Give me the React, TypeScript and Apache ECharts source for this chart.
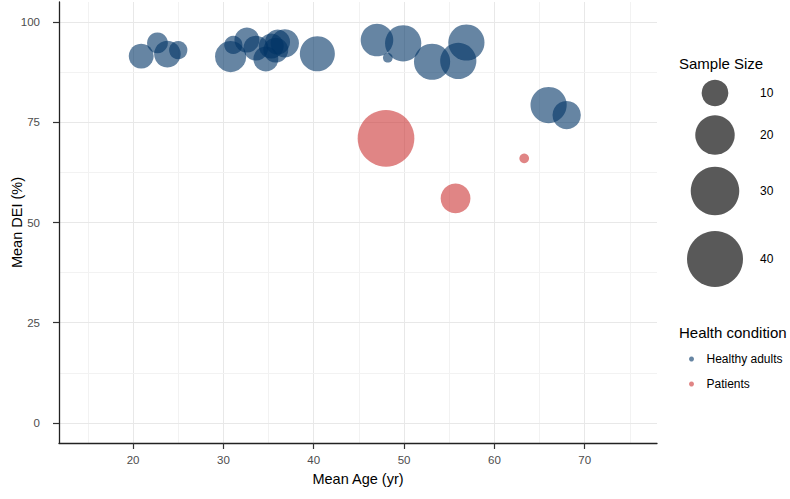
import React, { useEffect, useRef } from "react";
import * as echarts from "echarts";

// ---- data ----
const healthyAge = [20.9, 22.7, 23.8, 25.0, 30.8, 31.1, 32.6, 33.6, 34.7, 35.3, 35.8, 36.0, 36.8, 40.4, 47.0, 48.2, 49.9, 53.1, 56.0, 56.9, 66.0, 68.0];
const healthyDEI = [91.5, 94.8, 92.0, 93.0, 91.4, 94.3, 95.5, 93.5, 90.8, 94.0, 93.0, 95.0, 94.7, 92.1, 95.5, 91.1, 94.7, 90.1, 90.3, 94.9, 79.3, 76.8];
const healthyN = [9, 7, 10, 6, 13, 6, 9, 9, 9, 9, 9, 9, 11, 16, 14, 4, 17, 17, 17, 17, 17, 11];

const patientAge = [48.0, 63.3, 55.7];
const patientDEI = [71.0, 66.0, 56.0];
const patientN = [41, 4, 12];

const xTicks = [20, 30, 40, 50, 60, 70];
const yTicks = [0, 25, 50, 75, 100];
const xGrid = [15, 20, 25, 30, 35, 40, 45, 50, 55, 60, 65, 70, 75];
const yGrid = [0, 12.5, 25, 37.5, 50, 62.5, 75, 87.5, 100];
const sizeBreaks = [10, 20, 30, 40];
const groupNames = ["Healthy adults", "Patients"];

const FONT = "'Liberation Sans', Arial, sans-serif";

function sizeOf(n: number): number {
  return 6 + 8.31 * Math.sqrt(Math.max(0, n - 3.8));
}

function zip(a: number[], b: number[], c: number[]) {
  return a.map((v, i) => [v, b[i], c[i]]);
}

export default function App() {
  const ref = useRef<HTMLDivElement>(null);

  useEffect(() => {
    if (!ref.current) return;
    const chart = echarts.init(ref.current, undefined, { renderer: "svg" });

    const legendCy = [93, 135, 191, 259];
    const graphics: any[] = [
      {
        type: "text",
        x: 679,
        y: 63,
        style: { text: "Sample Size", fontSize: 15, fontFamily: FONT, fill: "#000", align: "left", verticalAlign: "middle" },
      },
      {
        type: "text",
        x: 679,
        y: 332,
        style: { text: "Health condition", fontSize: 15, fontFamily: FONT, fill: "#000", align: "left", verticalAlign: "middle" },
      },
    ];
    sizeBreaks.forEach((n, i) => {
      graphics.push({
        type: "circle",
        shape: { cx: 715, cy: legendCy[i], r: sizeOf(n) / 2 },
        style: { fill: "#000", opacity: 0.65 },
      });
      graphics.push({
        type: "text",
        x: 760,
        y: legendCy[i],
        style: { text: String(n), fontSize: 12, fontFamily: FONT, fill: "#000", align: "left", verticalAlign: "middle" },
      });
    });

    const gridLine = (color: string) => ({ color, width: 1, type: "solid" as const });

    chart.setOption({
      animation: false,
      backgroundColor: "#fff",
      grid: { left: 59, right: 133, top: 2, bottom: 56, containLabel: false, outerBoundsMode: "none" },
      xAxis: {
        type: "value",
        min: 11.8,
        max: 78,
        name: "Mean Age (yr)",
        nameLocation: "middle",
        nameGap: 28,
        nameMoveOverlap: false,
        nameTextStyle: { fontSize: 14.5, fontFamily: FONT, color: "#000" },
        axisLine: { show: true, onZero: false, lineStyle: { color: "#222", width: 1.3 } },
        axisTick: { show: true, length: 6, customValues: xTicks, lineStyle: { color: "#333", width: 1.2 } },
        axisLabel: { customValues: xTicks, fontSize: 11.5, fontFamily: FONT, color: "#4d4d4d", margin: 11 },
        splitLine: { show: false },
      },
      yAxis: {
        type: "value",
        min: -5,
        max: 105,
        name: "Mean DEI (%)",
        nameLocation: "middle",
        nameRotate: 90,
        nameGap: 35,
        nameMoveOverlap: false,
        nameTextStyle: { fontSize: 14.5, fontFamily: FONT, color: "#000" },
        axisLine: { show: true, onZero: false, lineStyle: { color: "#222", width: 1.3 } },
        axisTick: { show: true, length: 6, customValues: yTicks, lineStyle: { color: "#333", width: 1.2 } },
        axisLabel: { customValues: yTicks, fontSize: 11.5, fontFamily: FONT, color: "#4d4d4d", margin: 19 },
        splitLine: { show: false },
      },
      legend: {
        orient: "vertical",
        left: 684,
        top: 347,
        data: groupNames,
        icon: "circle",
        itemWidth: 20,
        itemHeight: 5,
        itemGap: 11,
        textStyle: { fontSize: 12, fontFamily: FONT, color: "#000", lineHeight: 14 },
        selectedMode: false,
      },
      graphic: graphics,
      series: [
        {
          type: "scatter",
          name: "grid",
          data: [],
          silent: true,
          z: 0,
          markLine: {
            silent: true,
            symbol: ["none", "none"],
            label: { show: false },
            z: 0,
            animation: false,
            lineStyle: gridLine("#ececec"),
            emphasis: { disabled: true },
            data: [
              ...xGrid.map((v) => ({ xAxis: v, lineStyle: gridLine(v % 10 === 0 ? "#e8e8e8" : "#f2f2f2") })),
              ...yGrid.map((v) => ({ yAxis: v, lineStyle: gridLine(v % 25 === 0 ? "#e8e8e8" : "#f2f2f2") })),
            ],
          },
        },
        {
          type: "scatter",
          name: groupNames[0],
          z: 3,
          data: zip(healthyAge, healthyDEI, healthyN),
          symbolSize: (val: number[]) => sizeOf(val[2]),
          itemStyle: { color: "#003366", opacity: 0.6 },
          emphasis: { disabled: true },
        },
        {
          type: "scatter",
          name: groupNames[1],
          z: 3,
          data: zip(patientAge, patientDEI, patientN),
          symbolSize: (val: number[]) => sizeOf(val[2]),
          itemStyle: { color: "#cc3333", opacity: 0.6 },
          emphasis: { disabled: true },
        },
      ],
    });

    return () => chart.dispose();
  }, []);

  return (
    <div style={{ position: "fixed", left: 0, top: 0, width: 790, height: 499, background: "#fff" }}>
      <div ref={ref} style={{ width: 790, height: 499 }} />
    </div>
  );
}
